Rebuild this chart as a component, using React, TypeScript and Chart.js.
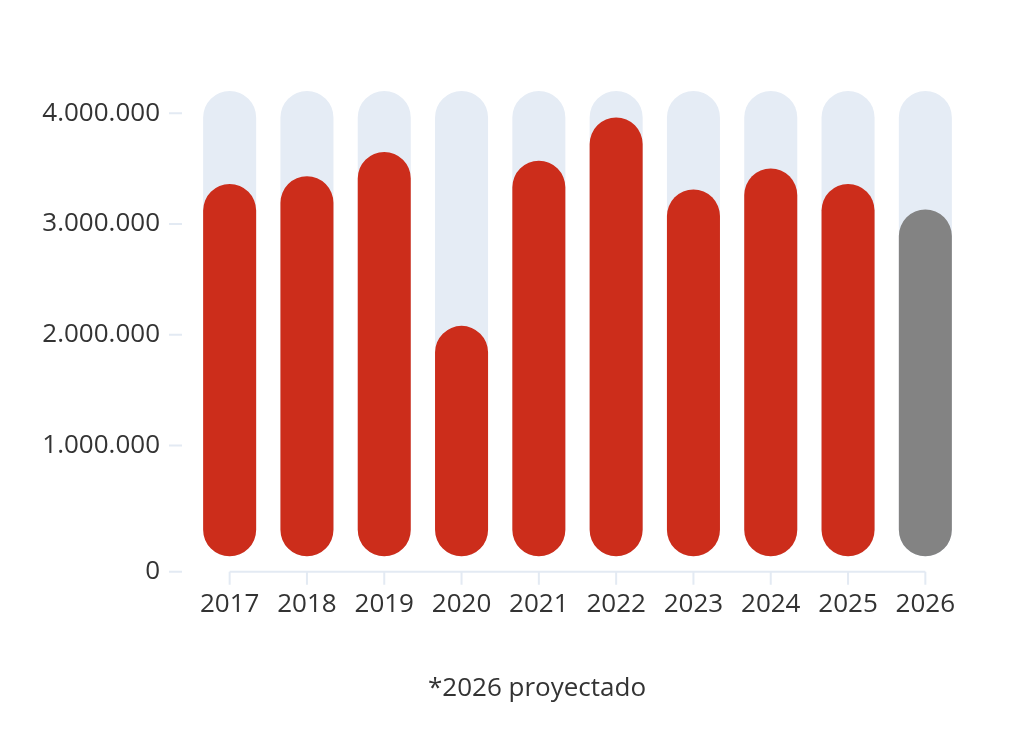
import { useEffect, useRef } from "react";
import { Chart, registerables, Plugin } from "chart.js";

Chart.register(...registerables);

const years = ["2017", "2018", "2019", "2020", "2021", "2022", "2023", "2024", "2025", "2026"];
const volumes = [3360000, 3430000, 3650000, 2080000, 3570000, 3960000, 3310000, 3500000, 3360000, 3130000];
const projectedYear = "2026";
const trackMax = 4200000;
const axisMin = -140000;
const yTicks = [axisMin, 1000000, 2000000, 3000000, 4000000];
const footnote = "*2026 proyectado";

const RED = "#cc2d1b";
const GRAY = "#838383";
const TRACK = "#e5ecf5";
const AXIS = "#e3eaf3";

const fmt = (v: number) => Math.round(v).toLocaleString("de-DE");

// axis line only between first and last year, short tick marks off the plot
const axisDeco: Plugin<"bar"> = {
  id: "axisDeco",
  afterDraw(chart) {
    const { ctx, chartArea, scales } = chart;
    const x = scales.x;
    const y = scales.y;
    ctx.save();
    ctx.strokeStyle = AXIS;
    ctx.lineWidth = 2;
    ctx.beginPath();
    const x0 = x.getPixelForValue(0);
    const x1 = x.getPixelForValue(years.length - 1);
    ctx.moveTo(x0, chartArea.bottom);
    ctx.lineTo(x1, chartArea.bottom);
    years.forEach((_, i) => {
      const px = x.getPixelForValue(i);
      ctx.moveTo(px, chartArea.bottom);
      ctx.lineTo(px, chartArea.bottom + 13);
    });
    y.ticks.forEach((t) => {
      const py = y.getPixelForValue(t.value);
      ctx.moveTo(chartArea.left - 22, py);
      ctx.lineTo(chartArea.left - 9, py);
    });
    ctx.stroke();
    ctx.restore();
  },
};

const App = () => {
  const canvasRef = useRef<HTMLCanvasElement>(null);

  useEffect(() => {
    if (!canvasRef.current) return;
    const ctx = canvasRef.current.getContext("2d");
    if (!ctx) return;

    Chart.defaults.font.family = "'Open Sans', sans-serif";
    Chart.defaults.color = "#333333";

    const chart = new Chart(ctx, {
      type: "bar",
      data: {
        labels: years,
        datasets: [
          {
            label: "Volumen",
            data: volumes,
            backgroundColor: years.map((y) => (y === projectedYear ? GRAY : RED)),
            borderRadius: 100,
            borderSkipped: false,
            grouped: false,
            order: 0,
            barPercentage: 0.686,
            categoryPercentage: 1,
          },
          {
            label: "Fondo",
            data: years.map(() => trackMax),
            backgroundColor: TRACK,
            borderRadius: 100,
            borderSkipped: false,
            grouped: false,
            order: 1,
            barPercentage: 0.686,
            categoryPercentage: 1,
          },
        ],
      },
      options: {
        animation: false,
        responsive: true,
        maintainAspectRatio: false,
        layout: { padding: { top: 91, right: 60, left: 0, bottom: 110 } },
        plugins: {
          legend: { display: false },
          tooltip: { enabled: false },
        },
        scales: {
          x: {
            grid: { display: false, drawTicks: false },
            border: { display: false },
            ticks: { font: { size: 26 }, padding: 17, color: "#333333" },
          },
          y: {
            min: axisMin,
            max: trackMax,
            grid: { display: false, drawTicks: false },
            border: { display: false },
            afterBuildTicks: (scale) => {
              scale.ticks = yTicks.map((value) => ({ value }));
            },
            afterFit: (scale) => {
              scale.width = 191;
            },
            ticks: {
              font: { size: 26 },
              padding: 31,
              color: "#333333",
              callback: (v) => (Number(v) === axisMin ? "0" : fmt(Number(v))),
            },
          },
        },
      },
      plugins: [axisDeco],
    });

    return () => chart.destroy();
  }, []);

  return (
    <div style={{ position: "fixed", left: 0, top: 0, width: 1024, height: 747, background: "#fff" }}>
      <canvas ref={canvasRef}></canvas>
      <div
        style={{
          position: "absolute",
          left: 0,
          width: 1074,
          top: 670,
          textAlign: "center",
          fontFamily: "'Open Sans', sans-serif",
          fontSize: 26,
          lineHeight: "32px",
          color: "#333333",
        }}
      >
        {footnote}
      </div>
    </div>
  );
};

export default App;
